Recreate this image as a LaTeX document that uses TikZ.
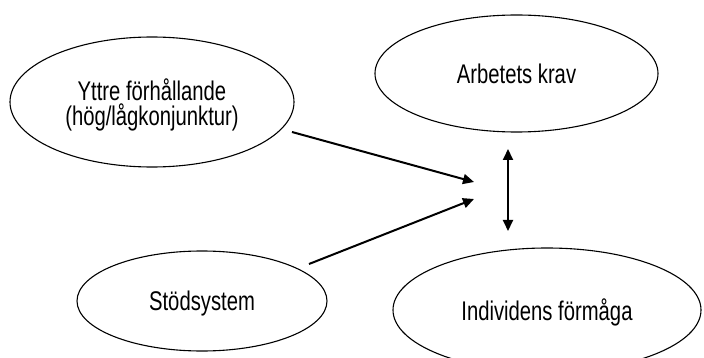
\documentclass[tikz,border=0pt]{standalone}
\usepackage{fontspec}
\setmainfont{Liberation Sans}[FakeStretch=0.75]
\usetikzlibrary{shapes.geometric,arrows.meta}
\begin{document}
\begin{tikzpicture}[x=1pt,y=-1pt,
  oval/.style={draw=black,line width=1.1pt,ellipse,inner sep=0pt,align=center,
    text depth=0pt,font=\fontsize{27}{25}\selectfont},
  conn/.style={line width=2pt,-{Triangle[length=11pt,width=10pt]}},
  biconn/.style={line width=2pt,{Triangle[length=11pt,width=10pt]}-{Triangle[length=11pt,width=10pt]}}]
\useasboundingbox (0,0) rectangle (704,358);
\clip (0,0) rectangle (704,358);
\fill[white] (0,0) rectangle (704,358);
\node[oval,minimum width=284pt,minimum height=130pt] (yttre) at (152,102) {Yttre förhållande\\(hög/lågkonjunktur)};
\node[oval,minimum width=283pt,minimum height=117pt] (krav) at (516.5,73.5) {Arbetets krav};
\node[oval,minimum width=250pt,minimum height=100pt] (stod) at (202,301) {Stödsystem};
\node[oval,minimum width=308pt,minimum height=124pt] (formaga) at (547,310) {Individens förmåga};
\coordinate (a1s) at (292,132);
\coordinate (a1e) at (474,182);
\coordinate (a2s) at (309,264);
\coordinate (a2e) at (474,199);
\coordinate (vt) at (508,149);
\coordinate (vb) at (508,231);
\draw[conn] (a1s) -- (a1e);
\draw[conn] (a2s) -- (a2e);
\draw[biconn] (vt) -- (vb);
\end{tikzpicture}
\end{document}
